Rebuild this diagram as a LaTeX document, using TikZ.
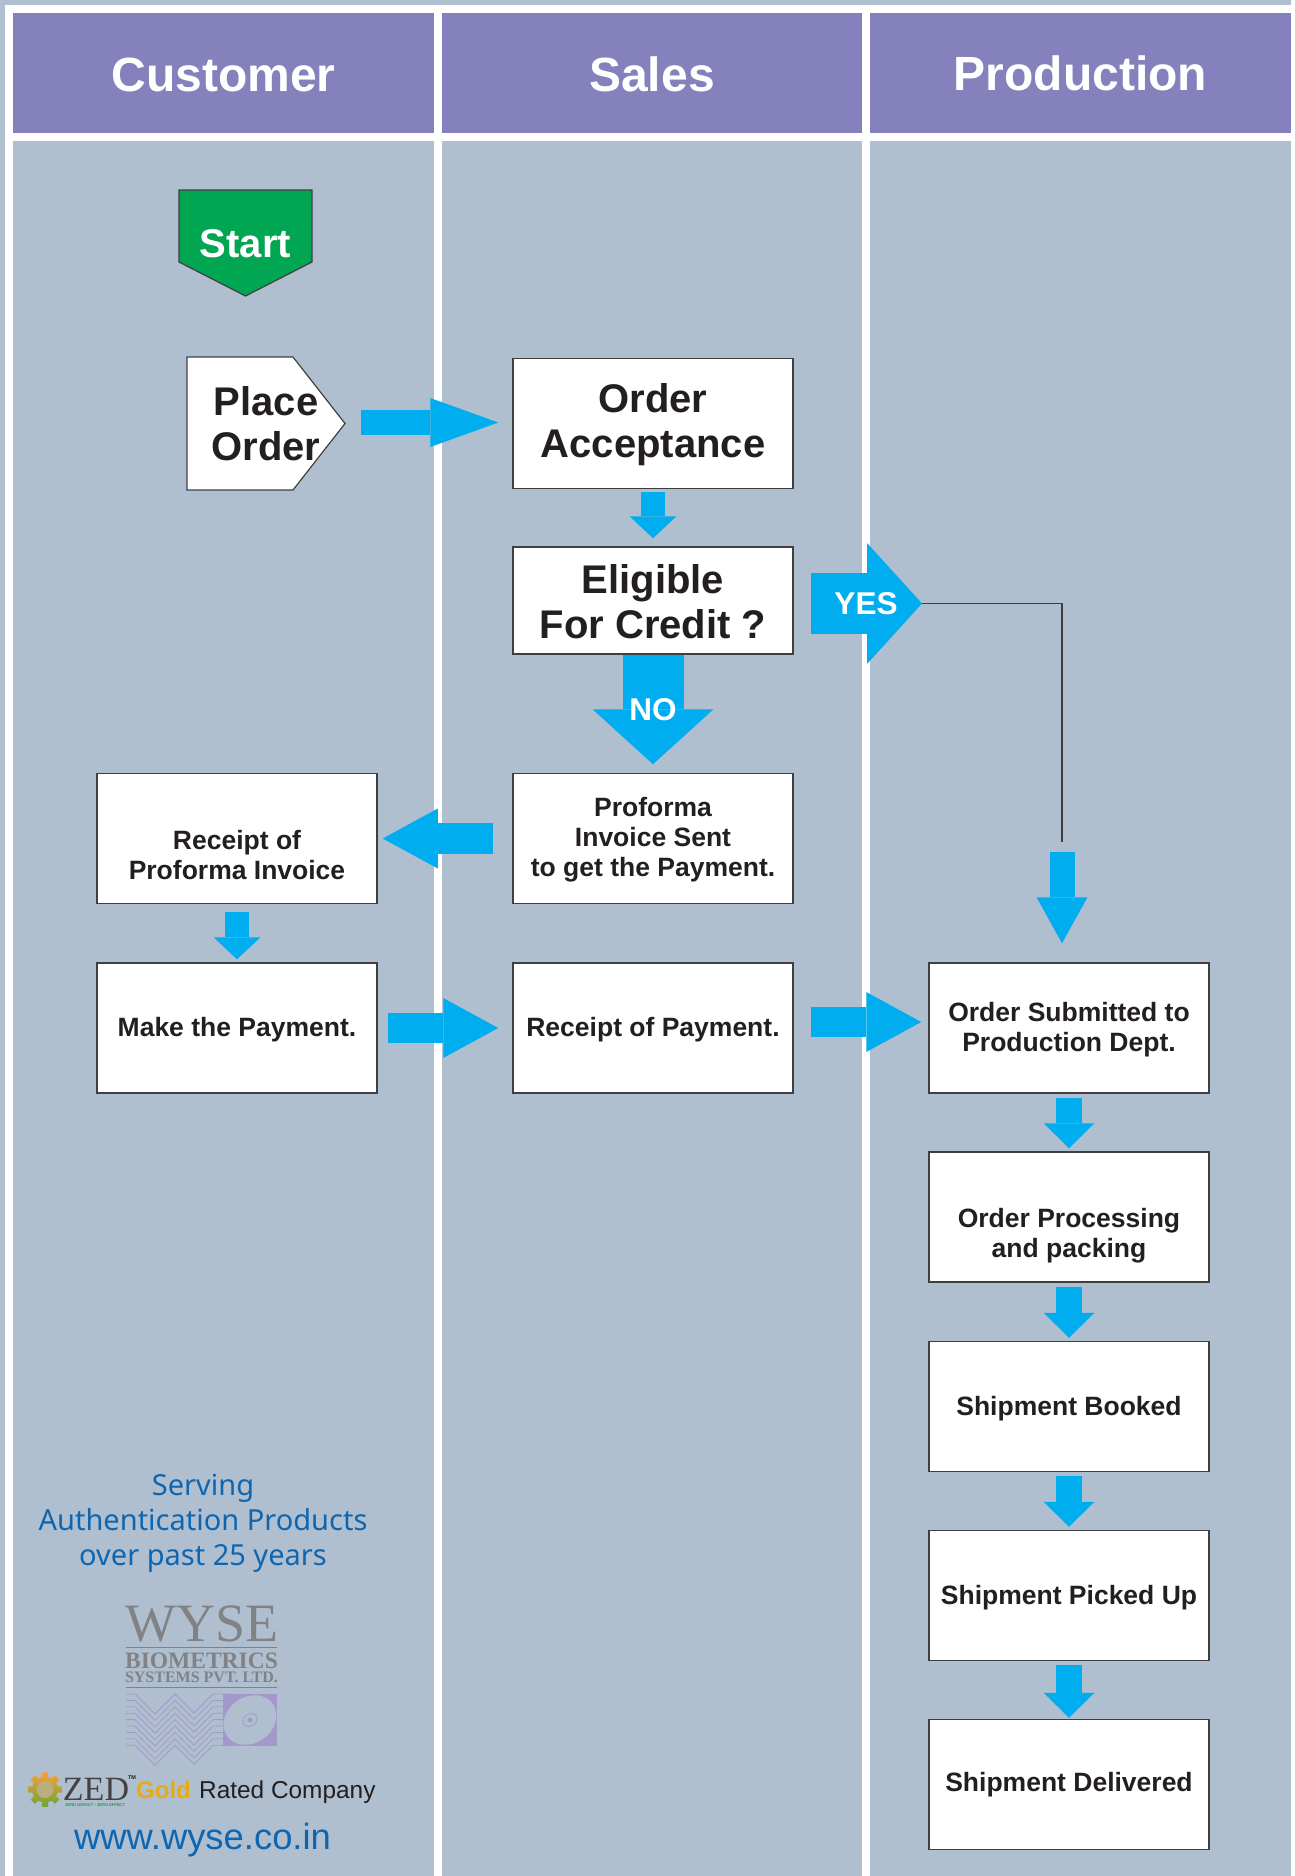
\documentclass[tikz,border=0pt]{standalone}
\usepackage{fontspec}
\setmainfont{Liberation Sans}
\newfontfamily\servefont{Noto Sans}
\newfontfamily\logofont{Liberation Serif}
\usetikzlibrary{arrows.meta}
\definecolor{laneblue}{HTML}{B0BFCF}
\definecolor{headviolet}{HTML}{8481BC}
\definecolor{flowblue}{HTML}{00AEEF}
\definecolor{startgreen}{HTML}{00A651}
\definecolor{inkdark}{HTML}{231F20}
\definecolor{edgedark}{HTML}{3F3F42}
\definecolor{logogray}{HTML}{808285}
\definecolor{logoviolet}{HTML}{A498CB}
\definecolor{serveblue}{HTML}{0F66B0}
\definecolor{goldtext}{HTML}{E6AC11}
\definecolor{gearorange}{HTML}{F6A03C}
\definecolor{geargreen}{HTML}{6FA536}
\definecolor{geartan}{HTML}{B9AE7E}
\definecolor{zedgreen}{HTML}{1E9A35}
\tikzset{
    HD/.style ={rectangle,minimum width = 421pt, minimum height = 120pt, inner sep=0pt, fill=headviolet, text=white, font=\fontsize{48}{54}\bfseries},
    LN/.style ={fill=laneblue},
    RA1/.style ={rectangle,minimum width = 280pt, minimum height = 130pt, inner sep=0pt, align=center, fill=white, draw=edgedark, line width=1.5pt, text=inkdark, font=\fontsize{26.5}{30}\bfseries},
    RA2/.style ={RA1, font=\fontsize{40}{44.5}\bfseries},
    SG/.style ={draw=edgedark, line width=1.2pt},
    TX1/.style ={inner sep=0pt, align=center, font=\fontsize{40}{45}\bfseries},
    TX2/.style ={inner sep=0pt, text=white, font=\fontsize{31.5}{36}\bfseries},
    AR1/.style ={draw=flowblue, line width=24pt, -{Triangle[length=22pt,width=47pt,line width=0pt]}},
    AR2/.style ={draw=flowblue, line width=26pt, -{Triangle[length=25pt,width=51pt,line width=0pt]}},
    AR3/.style ={draw=flowblue, line width=30.5pt, -{Triangle[length=55pt,width=60pt,line width=0pt]}},
    AR4/.style ={draw=flowblue, line width=61pt, -{Triangle[length=55pt,width=121pt,line width=0pt]}},
    AR5/.style ={draw=flowblue, line width=25pt, -{Triangle[length=68pt,width=49pt,line width=0pt]}},
    AR6/.style ={draw=flowblue, line width=25pt, -{Triangle[length=46pt,width=51pt,line width=0pt]}},
    TL/.style ={draw=edgedark, line width=1.3pt},
    ZZ/.style ={draw=logoviolet, line width=0.8pt},
    LG/.style ={inner sep=0pt, text=logogray}}

\begin{document}
\begin{tikzpicture}[x=1pt,y=-1pt]
        \useasboundingbox (0,0) rectangle (1295,1876);
        \fill[LN] (0,0) rectangle (1291,1876);
        \fill[white] (5,5) rectangle (1291,1876);
        \fill[LN] (13,141) rectangle (434,1876);
        \fill[LN] (442,141) rectangle (862,1876);
        \fill[LN] (870,141) rectangle (1291,1876);
        \node[HD,text height=37pt] (cu) at(223.5,73){Customer};
        \node[HD,text height=37pt,minimum width=420pt] (sa) at(652,73){Sales};
        \node[HD] (pr) at(1080.5,73){Production};
        \fill[startgreen] (179,190) -- (312,190) -- (312,262) -- (245.5,296) -- (179,262) -- cycle;
        \draw[SG] (179,190) -- (312,190) -- (312,262) -- (245.5,296) -- (179,262) -- cycle;
        \node[TX1,text=white,minimum width=133pt,minimum height=106pt] (st) at(245.5,243.5){Start};
        \draw[SG,fill=white] (187,357) -- (293,357) -- (345,423.5) -- (293,490) -- (187,490) -- cycle;
        \node[TX1,text=inkdark,minimum width=158pt,minimum height=133pt] (pl) at(266,423.5){Place\\Order};
        \node[RA2] (oa) at(653,423.5){\rule{0pt}{31.5pt}Order\\Acceptance};
        \node[RA2,minimum height=107pt] (el) at(653,600.5){\rule{0pt}{31.5pt}Eligible\\For Credit ?};
        \node[RA1] (pf) at(653,838.5){\rule{0pt}{21.5pt}Proforma\\Invoice Sent\\to get the Payment.};
        \node[RA1] (rp) at(237,838.5){\rule{0pt}{22pt}\\Receipt of\\Proforma Invoice};
        \node[RA1,text height=22pt] (mp) at(237,1028){Make the Payment.};
        \node[RA1,text height=22pt] (rc) at(653,1028){Receipt of Payment.};
        \node[RA1] (os) at(1069,1028){\rule{0pt}{21.5pt}Order Submitted to\\Production Dept.};
        \node[RA1] (op) at(1069,1217){\rule{0pt}{26pt}\\Order Processing\\and packing};
        \node[RA1,text height=24pt] (sb) at(1069,1406.5){Shipment Booked};
        \node[RA1,text height=24pt] (sp) at(1069,1595.5){Shipment Picked Up};
        \node[RA1] (sd) at(1069,1784.5){Shipment Delivered};
        \coordinate (yt) at(922,603.5);
        \coordinate (dn) at(1062,842);
        \draw[AR5,shorten <=16pt,shorten >=14pt] ([yshift=1pt]pl.east) -- ([yshift=1pt]oa.west);
        \draw[AR1,shorten <=3pt,shorten >=8pt] (oa.south) -- (el.north);
        \draw[AR4] (el.south) -- ([yshift=8.5pt]pf.north);
        \draw[AR4,shorten <=17pt] ([yshift=-3pt]el.east) -- (yt);
        \draw[TL] (yt) -| (dn);
        \draw[AR6,shorten <=10pt,shorten >=19pt] (dn) -- ([xshift=-7pt]os.north);
        \draw[AR3,shorten <=19pt,shorten >=5pt] (pf.west) -- (rp.east);
        \draw[AR1,shorten <=8pt,shorten >=3pt] (rp.south) -- (mp.north);
        \draw[AR3,shorten <=10pt,shorten >=14pt] (mp.east) -- (rc.west);
        \draw[AR3,shorten <=17pt,shorten >=7pt] ([yshift=6pt]rc.east) -- ([yshift=6pt]os.west);
        \draw[AR2,shorten <=4pt,shorten >=3pt] (os.south) -- (op.north);
        \draw[AR2,shorten <=4pt,shorten >=3pt] (op.south) -- (sb.north);
        \draw[AR2,shorten <=4pt,shorten >=3pt] (sb.south) -- (sp.north);
        \draw[AR2,shorten <=4pt,shorten >=1pt] (sp.south) -- (sd.north);
        \node[TX2] (ys) at(866,603.5){YES};
        \node[TX2] (no) at(653,710){NO};
        \node[align=center,inner sep=0pt,text=serveblue,font=\fontsize{29}{35}\servefont] (sv) at(203,1523){Serving\\Authentication Products\\over past 25 years};
        \node[LG,font=\fontsize{54}{54}\logofont] (wy) at(202,1624){WYSE};
        \draw[logogray,line width=0.8pt] (126,1647) -- (277,1647);
        \node[LG,font=\fontsize{23.5}{24}\logofont\bfseries] (bi) at(201.5,1660.5){BIOMETRICS};
        \node[LG,font=\fontsize{16}{16}\logofont\bfseries] (sy) at(201.5,1677.5){SYSTEMS PVT. LTD.};
        \draw[logogray,line width=0.8pt] (126,1687) -- (277,1687);
        \draw[ZZ] (126,1694.0) -- ++(9,0) -- ++(20,20) -- ++(20,-20) -- ++(19,19) -- ++(19,-19) -- ++(20,0);
        \draw[ZZ] (126,1700.4) -- ++(9,0) -- ++(20,20) -- ++(20,-20) -- ++(19,19) -- ++(19,-19) -- ++(20,0);
        \draw[ZZ] (126,1706.8) -- ++(9,0) -- ++(20,20) -- ++(20,-20) -- ++(19,19) -- ++(19,-19) -- ++(20,0);
        \draw[ZZ] (126,1713.2) -- ++(9,0) -- ++(20,20) -- ++(20,-20) -- ++(19,19) -- ++(19,-19) -- ++(20,0);
        \draw[ZZ] (126,1719.6) -- ++(9,0) -- ++(20,20) -- ++(20,-20) -- ++(19,19) -- ++(19,-19) -- ++(20,0);
        \draw[ZZ] (126,1726.0) -- ++(9,0) -- ++(20,20) -- ++(20,-20) -- ++(19,19) -- ++(19,-19) -- ++(20,0);
        \draw[ZZ] (126,1732.4) -- ++(9,0) -- ++(20,20) -- ++(20,-20) -- ++(19,19) -- ++(19,-19) -- ++(20,0);
        \draw[ZZ] (126,1738.8) -- ++(9,0) -- ++(20,20) -- ++(20,-20) -- ++(19,19) -- ++(19,-19) -- ++(20,0);
        \draw[ZZ] (126,1745.2) -- ++(9,0) -- ++(20,20) -- ++(20,-20) -- ++(19,19) -- ++(19,-19) -- ++(20,0);
        \fill[logoviolet] (223,1694) rectangle (277,1746);
        \fill[laneblue,rotate around={35:(250,1720)}] (250,1720) ellipse (28pt and 23pt);
        \draw[logoviolet,line width=0.8pt,rotate around={35:(250,1720)}] (250,1720) ellipse (7.5pt and 6pt);
        \fill[logoviolet] (250,1720) circle (2.5pt);
        \shade[top color=gearorange,bottom color=geargreen,shift={(45,1789.5)}] (-10:17.5) \foreach \a in {0,45,...,315} {-- ({\a-10}:17.5) -- ({\a+10}:17.5) -- ({\a+14}:13) -- ({\a+31}:13)} -- cycle;
        \fill[geartan] (45,1789.5) circle (8.5pt);
        \node[inner sep=0pt,text=inkdark!85,font=\fontsize{34}{34}\logofont] (ze) at(96,1789){ZED};
        \node[inner sep=0pt,text=inkdark,font=\fontsize{5.5}{6}\bfseries] (tm) at(132,1778){TM};
        \node[inner sep=0pt,text=zedgreen,font=\fontsize{4}{4}\bfseries] (zd) at(95,1805){ZERO DEFECT • ZERO EFFECT};
        \node[inner sep=0pt,anchor=base west,text=goldtext,font=\fontsize{24}{24}\bfseries] (go) at(136,1798){Gold};
        \node[inner sep=0pt,anchor=base west,text=inkdark,font=\fontsize{24.4}{24}\selectfont] (rt) at(199,1798){Rated Company};
        \node[inner sep=0pt,anchor=base,text=serveblue,font=\fontsize{36.4}{36}\selectfont] (ww) at(202.5,1849){www.wyse.co.in};
    \end{tikzpicture}
\end{document}
